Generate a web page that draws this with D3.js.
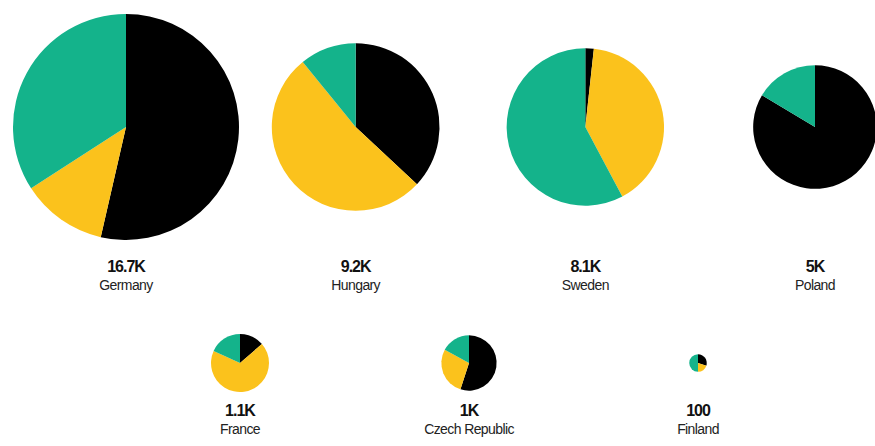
<!DOCTYPE html>
<html>
<head>
<meta charset="utf-8">
<script src="https://cdn.jsdelivr.net/npm/d3@7"></script>
<style>
  html, body { margin: 0; padding: 0; background: #fff; }
  svg { display: block; }
  text { font-family: "Liberation Sans", Arial, sans-serif; }
</style>
</head>
<body>
<svg id="chart" width="875" height="446"></svg>
<script>
// Data (thousands)
const countries = ["Germany", "Hungary", "Sweden", "Poland", "France", "Czech Republic", "Finland"];
const totalLabels = ["16.7K", "9.2K", "8.1K", "5K", "1.1K", "1K", "100"];
const seriesNames = ["Black", "Yellow", "Green"];
const blackValues  = [8.95, 3.40, 0.14, 4.18, 0.15, 0.55, 0.03];
const yellowValues = [2.05, 4.80, 3.28, 0.00, 0.75, 0.28, 0.02];
const greenValues  = [5.70, 1.00, 4.68, 0.82, 0.20, 0.17, 0.05];
const rowOf = [0, 0, 0, 0, 1, 1, 1];

const colors = ["#000000", "#fbc21c", "#14b38b"];

const svg = d3.select("#chart");

const data = countries.map((c, i) => ({
  name: c,
  label: totalLabels[i],
  row: rowOf[i],
  parts: [blackValues[i], yellowValues[i], greenValues[i]],
  total: blackValues[i] + yellowValues[i] + greenValues[i]
}));

const maxTotal = d3.max(data, d => d.total);
const r = d3.scaleSqrt().domain([0, maxTotal]).range([0, 113]);

const row1 = data.filter(d => d.row === 0);
const row2 = data.filter(d => d.row === 1);
const x1 = d3.scalePoint().domain(row1.map(d => d.name)).range([126, 815]);
const x2 = d3.scalePoint().domain(row2.map(d => d.name)).range([240, 698]);
const rowY = [127, 363];
const valueY = [272, 416];
const nameY = [290, 434];

const pie = d3.pie().sort(null).value(v => v);

data.forEach(d => {
  const cx = d.row === 0 ? x1(d.name) : x2(d.name);
  const g = svg.append("g").attr("transform", `translate(${cx},${rowY[d.row]})`);
  const arc = d3.arc().innerRadius(0).outerRadius(r(d.total));
  g.selectAll("path")
    .data(pie(d.parts))
    .join("path")
    .attr("d", arc)
    .attr("fill", (p, i) => colors[i]);

  const lg = svg.append("g").attr("transform", `translate(${cx},0)`);
  lg.append("text")
    .attr("y", valueY[d.row])
    .attr("text-anchor", "middle")
    .attr("font-size", 16)
    .attr("font-weight", "bold")
    .attr("letter-spacing", "-1")
    .attr("fill", "#111")
    .text(d.label);
  lg.append("text")
    .attr("y", nameY[d.row])
    .attr("text-anchor", "middle")
    .attr("font-size", 14)
    .attr("letter-spacing", "-0.6")
    .attr("fill", "#222")
    .text(d.name);
});
</script>
</body>
</html>
